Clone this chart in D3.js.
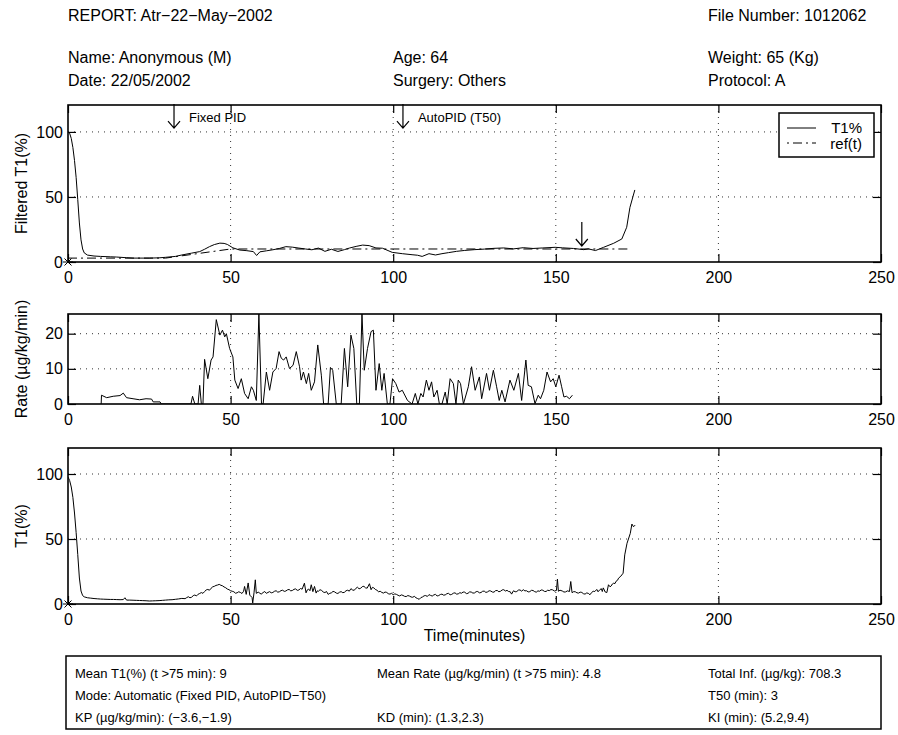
<!DOCTYPE html>
<html>
<head>
<meta charset="utf-8">
<script src="https://cdn.jsdelivr.net/npm/d3@7"></script>
<style>
  body { margin: 0; background: #fff; }
  svg text { font-family: "Liberation Sans", Arial, Helvetica, sans-serif; fill: #000; }
</style>
</head>
<body>
<div class="visHolder"></div>
<script>
var width = 898,
  height = 735,
  xLeft = 68,
  xRight = 881;

// ---- data ----
var headerLeft = ["REPORT: Atr\u221222\u2212May\u22122002", "Name: Anonymous (M)", "Date: 22/05/2002"];
var headerMid = ["", "Age: 64", "Surgery: Others"];
var headerRight = ["File Number: 1012062", "Weight: 65 (Kg)", "Protocol: A"];

var boxCol1 = ["Mean T1(%) (t >75 min): 9", "Mode: Automatic (Fixed PID, AutoPID\u2212T50)", "KP (\u00b5g/kg/min): (\u22123.6,\u22121.9)"];
var boxCol2 = ["Mean Rate (\u00b5g/kg/min) (t >75 min): 4.8", "", "KD (min): (1.3,2.3)"];
var boxCol3 = ["Total Inf. (\u00b5g/kg): 708.3", "T50 (min): 3", "KI (min): (5.2,9.4)"];

var xTicks = [0, 50, 100, 150, 200, 250];
var t1Ticks = [0, 50, 100];
var rateTicks = [0, 10, 20];

// [minutes, %]
var filteredT1 = [
  [0,100],[0.5,99],[1,95],[1.5,88],[2,78],[2.5,65],[3,48],[3.5,30],[4,17],[4.5,10],[5,7],[6,5.3],
  [8,4.6],[10,4.3],[13,4],[15,3.8],[18,3.3],[20,3],[25,3],[28,3.2],[30,3.6],[33,4.3],[35,5.4],
  [38,6.8],[40.5,8],[42,9.8],[43.5,11.8],[45,13.4],[46.7,14.5],[48,14.3],[49,13.5],[50.7,10.9],
  [52.8,9.2],[55,8.7],[57,8],[58,5],[59,7.8],[61,8.6],[63,9.4],[65,10.4],[67,11.8],[69,11.4],
  [71,10.7],[73,10],[75,9.4],[77,10.7],[79,8.2],[81,9.8],[83,8.1],[85,9.5],[86.5,10.7],[88.6,12],
  [90.6,13],[92.6,12.6],[94.7,10.8],[96.7,10.6],[99.7,7.4],[102.8,6.4],[105.8,5.6],[107.5,5.2],
  [108.9,4.3],[111,6.4],[113,5.4],[115,6.4],[117,7.2],[119.5,8.2],[122,8.9],[125,9.5],[128,9.9],
  [131,10.5],[134,10.8],[137,10.1],[140,11],[143,10.4],[146,10.8],[149.8,11.3],[152,10.9],
  [155.5,10.4],[158.6,9.5],[160,10.1],[162.2,8.8],[164.7,11.3],[167.8,14.4],[170.3,17.7],
  [171.8,26.7],[172.8,42],[174.3,55.4]
];

var refT1 = [[0,3],[30,3],[50,10],[172.5,10]];

// [minutes, ug/kg/min]
var rateData = [
  [10.2,0],[10.3,2.5],[11.9,1.8],[13.9,2.2],[16,2.4],[17,3.1],[18,1.8],[20,1.5],[22,1.2],[24,1.5],
  [25.7,1.4],[26.2,0.6],[28.3,0.6],[28.7,0],[37.8,0],[38.3,2.2],[39,0],[40,0],[40.5,5.3],[41,0],
  [41.5,0],[42,12.7],[43,7.2],[44,12.5],[44.6,13.4],[45.6,24],[46.7,19.6],[47.5,21],[48.2,19.1],
  [48.7,20],[49.7,15.8],[50.7,13.4],[51.3,6.8],[52.3,4.4],[53.3,7.2],[54.3,3],[55.4,1.5],[56.4,4.9],
  [57,3.9],[57.9,1],[58.7,25.6],[59.5,0],[60,0],[61,9.1],[62,3.9],[63,9.1],[64,10.1],[64.9,14.9],
  [65.6,13],[66.3,12.5],[67.1,13.4],[68.1,10.1],[69.2,11],[70.2,14.9],[71.2,10.6],[71.7,6.8],
  [72.4,9.1],[73.3,5.8],[74,8.7],[74.8,3.9],[75.8,6.3],[76.8,16.8],[77.9,8.2],[78.6,0],[80,0],
  [80.7,10.4],[81.4,9.6],[82.5,0],[84,0],[85,15.8],[86,4.9],[87,19.6],[87.9,15.8],[88.8,0],[89.6,0],
  [90.4,25.6],[91.1,9.6],[92.1,15.8],[93.2,20.6],[93.9,21],[94.7,3.9],[95.7,11.5],[96.5,3.9],
  [97.2,8.7],[98.2,0],[99,0],[99.8,7.2],[100.8,5.8],[101.8,3.4],[102.8,3.9],[104.4,1],[105.8,0],
  [106.8,3],[107.6,0],[108.5,3],[109.2,2],[110.2,6.8],[111,3.9],[111.8,6.3],[112.5,2],[113.5,3.9],
  [114.2,0],[115,0],[116,3.4],[116.6,0],[117.5,7.2],[118.5,5.8],[119.3,0],[120,6.8],[120.7,5.8],
  [121.6,0],[123.1,4.9],[124.1,10.6],[125.2,3.9],[126.5,7.7],[127.2,1.5],[128.7,8.7],[129.6,3.9],
  [130.8,9.6],[131.8,4.9],[132.6,1],[133.4,3.9],[134.4,0.6],[135.9,6.8],[137.1,3.9],[138.5,8.7],
  [139.5,1],[140.8,12.5],[141.5,5.3],[142.5,4.9],[143.6,0.1],[144.6,2.5],[145.3,1.5],[146.3,3.9],
  [147.3,9.1],[148.4,6.3],[149.2,7.2],[150,4.9],[151,8.2],[151.8,4.9],[152.5,2],[153.3,2.2],
  [154.2,1.5],[155.1,2.5]
];

// [minutes, %] raw measurement
var rawT1 = [
  [0,97.7],[0.5,95],[1,90],[1.5,82],[2,70],[2.5,55],[3,38],[3.5,20],[4,10],[4.5,6.5],[5,5.5],[6,4.8],
  [7,4.5],[8,4.2],[9,4],[10,3.8],[11,3.7],[12,3.6],[13,3.5],[14,3.5],[15,3.4],[16,3.3],[17,3.4],
  [17.5,4.8],[18,3],[19,3],[20,2.9],[21,2.8],[22,2.7],[23,2.6],[24,2.5],[25,2.3],[26,2.4],[27,2.5],
  [28,2.6],[29,2.8],[30,3],[31,3.2],[32,3.3],[33,3.6],[34,3.9],[35,4.3],[36,4.1],[36.5,4.9],[37,5.6],
  [37.5,4.8],[38,5.2],[38.5,6.4],[39,6.9],[39.5,6.2],[40,7.5],[40.5,8.1],[41,8.8],[41.5,8.2],[42,9.6],
  [42.5,10.8],[43,11.2],[43.5,10.6],[44,12.1],[44.5,13.2],[45,13.6],[45.5,14.3],[46,14.6],[46.5,15.1],
  [47,14.4],[47.5,14],[48,13.1],[48.5,12.5],[49,11.5],[49.5,11],[50,10.2],[50.5,9.8],[51,9.4],
  [51.5,8.3],[52,8.6],[52.5,9.4],[53,8.9],[53.5,8.1],[54,9.8],[54.3,13.5],[54.8,7.4],[55.4,16.2],
  [55.9,6.8],[56.6,5],[56.8,0.8],[57.2,8.6],[57.6,18.6],[57.9,8.2],[58.5,9.1],[59,8.3],[59.4,7.6],
  [60,8.8],[60.5,9.6],[61,8.2],[61.5,8.9],[62,9.5],[62.5,8.6],[63,8.9],[63.5,9.8],[64,10.2],[64.5,9.1],
  [65,9.4],[65.5,10.3],[66,10.6],[66.5,9.7],[67,10],[67.5,10.9],[68,11.2],[68.5,10.1],[69,10.4],
  [69.5,11.3],[70,11.6],[70.5,10.5],[71,10.8],[71.5,11.9],[72,11.4],[72.7,16],[73.2,8.6],[73.6,10.9],
  [74,11.5],[74.4,10.2],[74.8,14.8],[75.3,9.5],[75.8,13.5],[76.3,8.4],[76.6,10.1],[77,9.8],[77.5,11],
  [78,10.4],[78.5,9.2],[79,8.8],[79.5,9.6],[80,7.4],[80.5,8.2],[81,8.6],[81.5,9.7],[82,9.3],[82.5,8.4],
  [83,8.1],[83.5,9.1],[84,9.5],[84.5,8.7],[85,9],[85.5,10.2],[86,10.6],[86.5,9.9],[87,11.8],[87.5,10.8],
  [88,10.5],[88.5,12],[89,12.9],[89.5,11.7],[90,12.1],[90.5,13.4],[91,13.6],[91.5,12.4],[92,12.2],
  [92.7,15.6],[93.2,11],[93.6,12.8],[94,12.5],[94.5,11.2],[95,10.6],[95.5,9.4],[96,9.8],[96.5,8.9],
  [97,8.4],[97.5,9.2],[98,8.9],[98.5,7.9],[99,7.6],[99.5,8.2],[100,7.1],[100.5,7.8],[101,7.4],
  [101.5,6.7],[102,6.2],[102.5,7],[103,6.6],[103.5,5.9],[104,5.7],[104.5,6.5],[105,6.1],[105.5,5.4],
  [106,5.2],[106.5,5.9],[107,4.8],[107.5,4.2],[108,3.6],[108.5,4.9],[109,5.4],[109.5,6.3],[110,6.5],
  [110.5,5.8],[111,7.2],[111.5,6.6],[112,6.1],[112.5,7],[113,7.4],[113.5,6.2],[114,6.5],[114.5,7.3],
  [115,7.6],[115.5,6.8],[116,7],[116.5,7.9],[117,8.2],[117.5,7.1],[118,7.4],[118.5,8.3],[119,8.6],
  [119.5,7.6],[120,7.8],[120.5,8.7],[121,8.3],[121.5,9.2],[122,9.1],[122.5,8],[123,8.2],[123.5,9.3],
  [124,9.2],[124.5,8.4],[125,8.5],[125.5,9.5],[126,9.6],[126.5,8.6],[127,8.8],[127.5,9.8],[128,9.9],
  [128.5,8.9],[129,9.3],[129.5,10.2],[130,10],[130.5,9.2],[131,9.1],[131.5,10.3],[132,10.4],
  [132.5,9.4],[133,9.8],[133.5,10.8],[134,11],[134.5,10],[135,10.5],[135.5,9.6],[136,9.4],[136.4,7.6],
  [137,10.2],[137.5,9.4],[138,9.6],[138.5,10.7],[139,10.8],[139.5,9.9],[140,11],[140.5,10.1],
  [141,10.2],[141.5,9.3],[142,9.5],[142.5,10.5],[143,10.4],[143.5,9.5],[144,9.1],[144.5,10.1],
  [145,9.8],[145.5,10.8],[146,10.6],[146.5,9.7],[147,9.6],[147.5,10.6],[148,10.3],[148.5,11.1],
  [149,10.9],[149.6,10],[150.2,10.4],[150.5,19.1],[150.8,9.8],[151.3,10.6],[152,10],[152.5,9.2],
  [153,9.3],[153.6,10.1],[154.2,9.6],[154.6,17.3],[155,8.7],[155.5,9.5],[156,9.4],[156.5,8.6],
  [157,8.4],[157.5,9.1],[158,8.9],[158.5,7.9],[159,7.6],[159.5,8.5],[160,8.2],[160.5,7.1],[161,8.8],
  [161.5,9.8],[162,9.6],[162.6,11.2],[163,9.4],[163.5,10.9],[164,11.8],[164.3,9.6],[164.6,12.4],
  [165.2,9.2],[165.7,8.8],[166.2,14.8],[166.7,13.2],[167,13.8],[167.4,15.4],[167.8,16],[168.2,15.7],
  [168.5,17.4],[169,18.3],[169.3,19.9],[170,21.4],[170.7,23.7],[171.2,37.8],[171.9,46.7],[172.9,54.3],
  [173.4,61.5],[173.9,59.4],[174.4,60.7]
];

var arrowTimes = [32.6, 103, 158];
var arrowLabels = ["Fixed PID", "AutoPID (T50)", ""];
var arrowTips = [103, 103, 12.3];

// ---- drawing ----
var svg = d3.select(".visHolder").append("svg").attr("width", width).attr("height", height);

var xScale = d3.scaleLinear().domain([0, 250]).range([xLeft, xRight]);

var line = function (y) {
  return d3.line().x(d => xScale(d[0])).y(d => y(d[1]));
};

function drawPanel(id, top, bottom, yMax, yTicks, label) {
  var y = d3.scaleLinear().domain([0, yMax]).range([bottom, top]);
  var g = svg.append("g").attr("id", id);

  g.append("clipPath").attr("id", "clip-" + id)
    .append("rect").attr("x", xLeft).attr("y", top).attr("width", xRight - xLeft).attr("height", bottom - top);

  // dotted grid
  g.selectAll(".vgrid").data(xTicks.slice(1, -1)).enter().append("line")
    .attr("x1", d => xScale(d)).attr("x2", d => xScale(d))
    .attr("y1", top).attr("y2", bottom)
    .attr("stroke", "#333").attr("stroke-width", 1).attr("stroke-dasharray", "1,5");
  g.selectAll(".hgrid").data(yTicks.slice(1)).enter().append("line")
    .attr("x1", xLeft).attr("x2", xRight)
    .attr("y1", d => y(d)).attr("y2", d => y(d))
    .attr("stroke", "#333").attr("stroke-width", 1).attr("stroke-dasharray", "1,5");

  var xAxis = d3.axisBottom(xScale).tickValues(xTicks).tickSizeInner(-8).tickSizeOuter(0).tickPadding(10);
  var xTop = d3.axisTop(xScale).tickValues(xTicks).tickSizeInner(-8).tickSizeOuter(0).tickFormat("");
  var yAxis = d3.axisLeft(y).tickValues(yTicks).tickSizeInner(-8).tickSizeOuter(0).tickPadding(5);
  var yRight = d3.axisRight(y).tickValues(yTicks).tickSizeInner(-8).tickSizeOuter(0).tickFormat("");

  [[xAxis, "translate(0," + bottom + ")"], [xTop, "translate(0," + top + ")"],
   [yAxis, "translate(" + xLeft + ",0)"], [yRight, "translate(" + xRight + ",0)"]].forEach(function (a) {
    var ax = g.append("g").attr("transform", a[1]).call(a[0]);
    ax.select(".domain").remove();
    ax.selectAll("line").attr("stroke", "#000").attr("stroke-width", 1.2);
    ax.selectAll("text").style("font-size", "16px")
      .style("font-family", '"Liberation Sans", Arial, Helvetica, sans-serif');
  });

  g.append("rect").attr("x", xLeft).attr("y", top).attr("width", xRight - xLeft).attr("height", bottom - top)
    .attr("fill", "none").attr("stroke", "#000").attr("stroke-width", 1.6);

  g.append("text")
    .attr("transform", "translate(27," + (top + bottom) / 2 + ") rotate(-90)")
    .attr("text-anchor", "middle")
    .style("font-size", "16px")
    .text(label);

  return { g: g, y: y, clip: "url(#clip-" + id + ")" };
}

function star(g, px, py) {
  var s = 5;
  g.append("path")
    .attr("d", "M" + (px - s) + "," + py + "H" + (px + s) +
      "M" + (px - s * 0.7) + "," + (py - s * 0.7) + "L" + (px + s * 0.7) + "," + (py + s * 0.7) +
      "M" + (px - s * 0.7) + "," + (py + s * 0.7) + "L" + (px + s * 0.7) + "," + (py - s * 0.7))
    .attr("stroke", "#000").attr("stroke-width", 1).attr("fill", "none");
}

function arrow(g, px, tipY, len) {
  g.append("path")
    .attr("d", "M" + px + "," + (tipY - len) + "V" + tipY + "M" + (px - 6) + "," + (tipY - 7) + "L" + px + "," + tipY + "L" + (px + 6) + "," + (tipY - 7))
    .attr("stroke", "#000").attr("stroke-width", 1.2).attr("fill", "none");
}

// header
var headerY = [21, 63, 86];
[[headerLeft, 68], [headerMid, 393], [headerRight, 708]].forEach(function (c) {
  svg.selectAll(null).data(c[0]).enter().append("text")
    .attr("x", c[1]).attr("y", (d, i) => headerY[i])
    .style("font-size", "16px").text(d => d);
});

// panel 1: filtered T1
var p1 = drawPanel("filtered", 105, 262, 120.7, t1Ticks, "Filtered T1(%)");
p1.g.append("path").datum(filteredT1).attr("d", line(p1.y)).attr("clip-path", p1.clip)
  .attr("fill", "none").attr("stroke", "#000").attr("stroke-width", 1);
p1.g.append("path").datum(refT1).attr("d", line(p1.y)).attr("clip-path", p1.clip)
  .attr("fill", "none").attr("stroke", "#000").attr("stroke-width", 1).attr("stroke-dasharray", "9,4,2,4");
star(p1.g, xScale(0), p1.y(0));

arrowTimes.forEach(function (t, i) {
  arrow(p1.g, xScale(t), p1.y(arrowTips[i]), 24);
  if (arrowLabels[i]) {
    p1.g.append("text").attr("x", xScale(t) + 15).attr("y", 122).style("font-size", "13px").text(arrowLabels[i]);
  }
});

// legend
var lg = p1.g.append("g").attr("transform", "translate(779,113)");
lg.append("rect").attr("width", 95).attr("height", 44).attr("fill", "#fff").attr("stroke", "#000").attr("stroke-width", 1.5);
lg.append("line").attr("x1", 8).attr("x2", 37).attr("y1", 15).attr("y2", 15).attr("stroke", "#000");
lg.append("line").attr("x1", 8).attr("x2", 37).attr("y1", 30).attr("y2", 30).attr("stroke", "#000").attr("stroke-dasharray", "2,4,9,4");
lg.append("text").attr("x", 83).attr("y", 19.5).attr("text-anchor", "end").style("font-size", "15px").text("T1%");
lg.append("text").attr("x", 83).attr("y", 36).attr("text-anchor", "end").style("font-size", "15px").text("ref(t)");

// panel 2: infusion rate
var p2 = drawPanel("rate", 314, 404, 25.6, rateTicks, "Rate (\u00b5g/kg/min)");
p2.g.append("path").datum(rateData).attr("d", line(p2.y)).attr("clip-path", p2.clip)
  .attr("fill", "none").attr("stroke", "#000").attr("stroke-width", 1);

// panel 3: raw T1
var p3 = drawPanel("raw", 448, 604, 120, t1Ticks, "T1(%)");
p3.g.append("path").datum(rawT1).attr("d", line(p3.y)).attr("clip-path", p3.clip)
  .attr("fill", "none").attr("stroke", "#000").attr("stroke-width", 1);
star(p3.g, xScale(0), p3.y(0));

svg.append("text").attr("x", (xLeft + xRight) / 2).attr("y", 641).attr("text-anchor", "middle")
  .style("font-size", "16px").text("Time(minutes)");

// summary box
svg.append("rect").attr("x", 66).attr("y", 656).attr("width", 815).attr("height", 73)
  .attr("fill", "none").attr("stroke", "#000").attr("stroke-width", 1.5);
[[boxCol1, 75], [boxCol2, 377], [boxCol3, 708]].forEach(function (c) {
  svg.selectAll(null).data(c[0]).enter().append("text")
    .attr("x", c[1]).attr("y", (d, i) => 678 + i * 22)
    .style("font-size", "13px").text(d => d);
});
</script>
</body>
</html>
